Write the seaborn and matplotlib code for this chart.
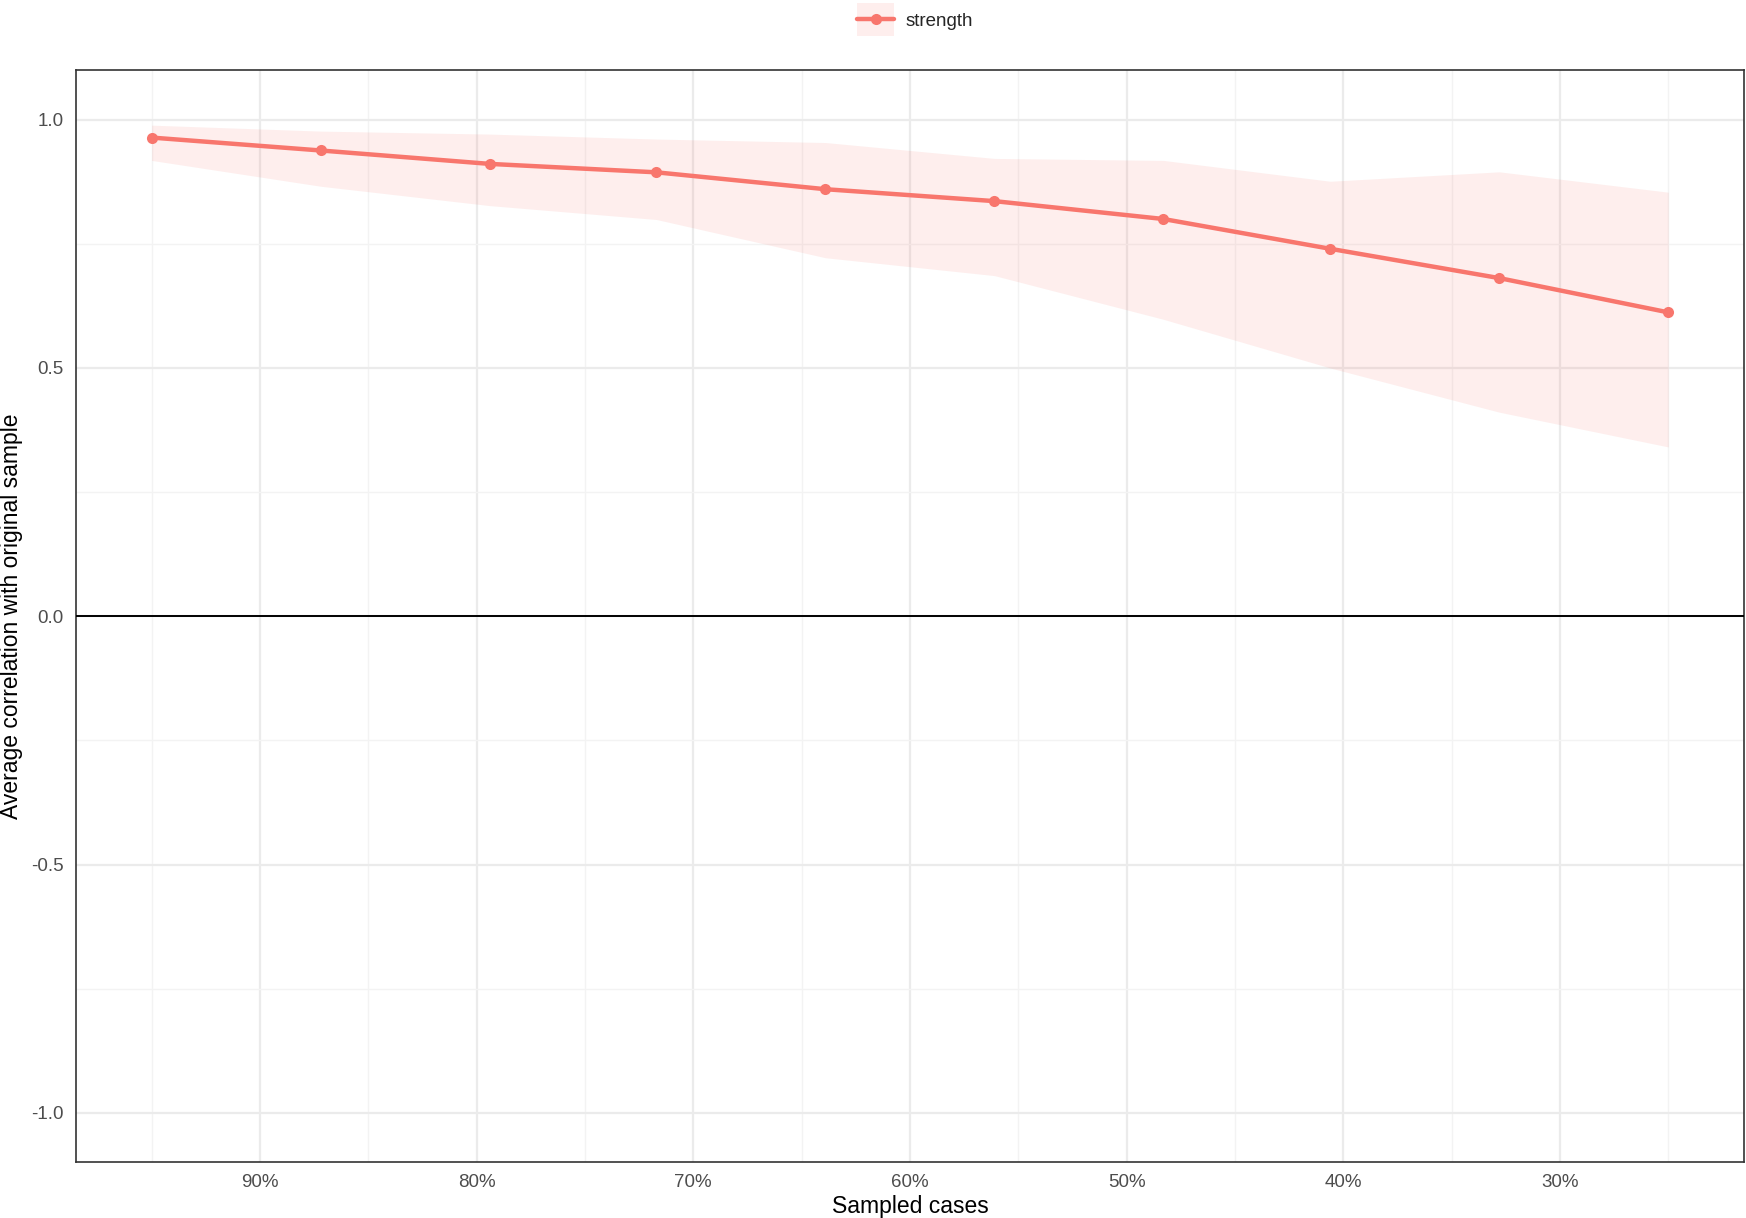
import numpy as np
import pandas as pd
import matplotlib
matplotlib.use("Agg")
import matplotlib.pyplot as plt
from matplotlib.lines import Line2D
from matplotlib.patches import Patch, Rectangle
from matplotlib.legend_handler import HandlerPatch
from matplotlib.ticker import MultipleLocator, FuncFormatter
import seaborn as sns

# data
sampled = [95.0, 87.2, 79.4, 71.7, 63.9, 56.1, 48.3, 40.6, 32.8, 25.0]
corr_mean = [0.964, 0.938, 0.911, 0.894, 0.860, 0.836, 0.800, 0.740, 0.681, 0.612]
corr_upper = [0.989, 0.977, 0.971, 0.961, 0.954, 0.922, 0.918, 0.876, 0.895, 0.854]
corr_lower = [0.918, 0.866, 0.827, 0.799, 0.722, 0.686, 0.598, 0.500, 0.411, 0.341]
series_name = "strength"

df = pd.DataFrame({"Sampled": sampled, "Correlation": corr_mean,
                   "Lower": corr_lower, "Upper": corr_upper, "type": series_name})

col = "#F8766D"

sns.set_theme(style="white")
plt.rcParams['font.family'] = ['Liberation Sans', 'DejaVu Sans']

fig = plt.figure(figsize=(17.46, 12.18), dpi=100)
ax = fig.add_axes([0.0434, 0.0456, 0.9555, 0.8969])

ax.fill_between(df["Sampled"], df["Lower"], df["Upper"], color=col, alpha=0.12,
                linewidth=0, zorder=2)
sns.lineplot(data=df, x="Sampled", y="Correlation", color=col, marker="o",
             markersize=8, markeredgewidth=0, linewidth=3.2, ax=ax, zorder=4,
             legend=False)
ax.axhline(0, color="black", linewidth=1.4, zorder=3)

ax.set_xlim(98.5, 21.5)
ax.set_ylim(-1.1, 1.1)
ax.xaxis.set_major_locator(MultipleLocator(10))
ax.xaxis.set_minor_locator(MultipleLocator(5))
ax.yaxis.set_major_locator(MultipleLocator(0.5))
ax.yaxis.set_minor_locator(MultipleLocator(0.25))
ax.xaxis.set_major_formatter(FuncFormatter(lambda v, p: f"{v:.0f}%"))
ax.yaxis.set_major_formatter(FuncFormatter(lambda v, p: f"{v:.1f}"))

ax.grid(which="major", color="#EBEBEB", linewidth=1.6, zorder=0)
ax.grid(which="minor", color="#F3F3F3", linewidth=1.0, zorder=0)
ax.set_axisbelow(True)
for s in ax.spines.values():
    s.set_color("#333333")
    s.set_linewidth(1.2)

ax.tick_params(axis="both", which="major", length=5, width=1.2, color="#333333",
               labelsize=13.5, labelcolor="#4D4D4D", direction="out")
ax.tick_params(axis="both", which="minor", length=0)
ax.set_xlabel("Sampled cases", fontsize=16.5, color="black", labelpad=3)
ax.set_ylabel("Average correlation with original sample", fontsize=16.5,
              color="black", labelpad=6)


# tall key background centred on the line
def key_box(legend, orig_handle, xdescent, ydescent, width, height, fontsize):
    cy = (height - ydescent) / 2
    h = 1.75 * fontsize
    return Rectangle((-xdescent, cy - h / 2), width, h)


handle = (Patch(facecolor=col, alpha=0.12, edgecolor="none"),
          Line2D([], [], color=col, linewidth=3.2, marker="o", markersize=8,
                 markeredgewidth=0))
fig.legend([handle], [series_name], loc="upper center",
           bbox_to_anchor=(0.524, 1.0035), frameon=False, fontsize=13.5,
           handlelength=2.0, handleheight=0.8, handletextpad=0.6,
           handler_map={Patch: HandlerPatch(patch_func=key_box)})

fig.savefig("out.png", dpi=100)
